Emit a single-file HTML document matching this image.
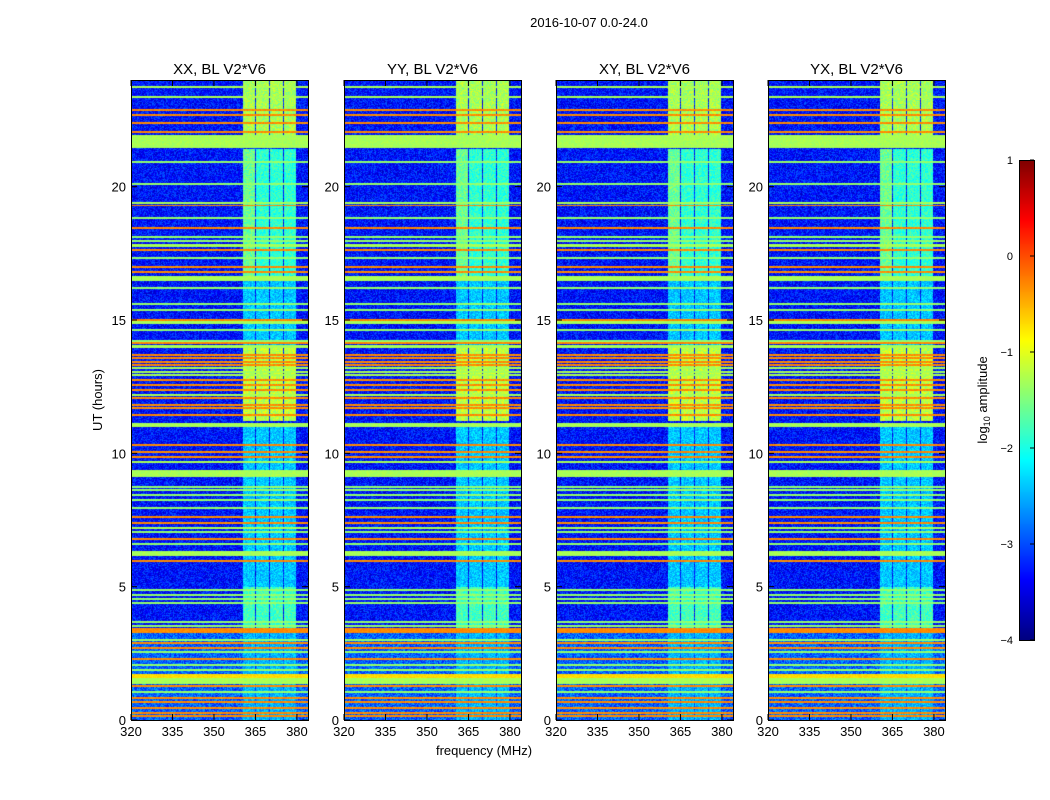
<!DOCTYPE html>
<html><head><meta charset="utf-8">
<style>
body{margin:0;background:#fff;width:1050px;height:800px;overflow:hidden;position:relative;font-family:"Liberation Sans",sans-serif}
canvas{position:absolute}
svg{position:absolute;left:0;top:0}
</style></head>
<body>
<canvas id="c0" width="177" height="640" style="left:131px;top:80px"></canvas>
<canvas id="c1" width="177" height="640" style="left:344px;top:80px"></canvas>
<canvas id="c2" width="177" height="640" style="left:556px;top:80px"></canvas>
<canvas id="c3" width="177" height="640" style="left:768px;top:80px"></canvas>
<canvas id="cb" width="15" height="480" style="left:1019px;top:160px"></canvas>
<svg id="ov" width="1050" height="800"></svg>
<script>
// ---- data ----
const panelTitles = ["XX, BL V2*V6","YY, BL V2*V6","XY, BL V2*V6","YX, BL V2*V6"];
const xTicks = [320,335,350,365,380];
const yTicks = [0,5,10,15,20];
const cbTicks = [1,0,-1,-2,-3,-4];
const lineHours = [23.74,23.36,22.88,22.69,22.39,22.05,21.68,20.93,20.1,19.39,19.28,18.83,18.45,18.11,17.96,17.78,17.63,17.33,16.99,16.8,16.54,16.2,15.6,15.38,15.0,14.89,14.63,14.21,14.14,14.0,13.69,13.58,13.43,13.31,13.2,13.05,12.94,12.75,12.56,12.38,12.19,12.08,11.81,11.7,11.44,11.06,10.31,10.05,9.86,9.68,9.24,8.74,8.63,8.44,8.25,7.95,7.61,7.39,7.2,7.05,6.79,6.6,6.23,5.96,4.88,4.69,4.54,4.39,3.68,3.53,3.34,3.0,2.89,2.7,2.55,2.29,2.06,1.88,1.65,1.44,1.28,1.05,0.83,0.68,0.45,0.26,0.15];
const lineWidths = [0.06,0.06,0.06,0.05,0.05,0.06,0.45,0.05,0.05,0.05,0.04,0.05,0.05,0.05,0.05,0.07,0.05,0.05,0.05,0.05,0.15,0.05,0.05,0.05,0.06,0.1,0.05,0.05,0.05,0.12,0.05,0.05,0.05,0.05,0.05,0.05,0.05,0.05,0.05,0.05,0.05,0.05,0.05,0.05,0.05,0.15,0.05,0.05,0.05,0.05,0.27,0.05,0.05,0.05,0.05,0.05,0.06,0.05,0.05,0.05,0.05,0.05,0.15,0.08,0.05,0.05,0.05,0.05,0.05,0.05,0.15,0.05,0.05,0.05,0.05,0.05,0.05,0.05,0.15,0.2,0.05,0.05,0.05,0.05,0.05,0.05,0.05];
const lineLevels = [-1.3,-1.3,-0.3,-0.3,-0.3,-0.3,-1.3,-1.4,-1.4,-1.3,-0.3,-1.4,-0.3,-1.4,-1.4,-1.3,-0.3,-1.4,-0.3,-0.3,-1.3,-1.4,-1.4,-1.4,-0.3,-1.3,-1.4,-1.4,-0.3,-1.3,-0.3,-0.3,-0.3,-0.3,-1.3,-1.3,-1.3,-0.3,-0.3,-0.3,-1.3,-0.3,-0.3,-0.3,-0.3,-1.3,-0.3,-0.3,-0.3,-1.3,-1.3,-1.4,-1.4,-1.4,-1.4,-1.4,-0.3,-0.3,-1.3,-1.4,-0.3,-1.4,-1.3,-0.3,-1.4,-1.4,-1.4,-1.4,-1.4,-1.4,-0.3,-1.4,-0.3,-0.3,-1.4,-0.3,-1.4,-1.4,-0.7,-1.3,-0.3,-1.4,-0.3,-0.3,-0.3,-0.3,-0.3];
const bandStart = [360.4,365.3,370.4,375.3];
const bandEnd = [365.0,369.9,375.0,379.8];
const segStart = [21.9,16.6,14.0,11.2,5.0,3.4,0.0];
const segEnd = [24.0,21.4,16.6,14.0,11.0,5.0,3.4];
const segLevel = [-1.3,-1.9,-2.4,-1.2,-2.4,-1.8,-2.5];
// ---- axes ----
const PW=177,PH=640,F0=320,F1=384,T0=0,T1=24;
const xs=f=>(f-F0)/(F1-F0)*PW;
const ys=h=>PH-(h-T0)/(T1-T0)*PH;
const lev2t=v=>(v+4)/5;
function jet(t){const c=x=>Math.max(0,Math.min(1,x));return [c(1.5-Math.abs(4*t-3))*255,c(1.5-Math.abs(4*t-2))*255,c(1.5-Math.abs(4*t-1))*255];}
function hash(i,j,k){let h=(i*374761393+j*668265263+k*2147483647)|0;h=(h^(h>>>13))*1274126177|0;return ((h^(h>>>16))>>>0)/4294967296;}
function drawPanel(id,pi){
  const cv=document.getElementById(id),ctx=cv.getContext('2d');
  const img=ctx.createImageData(PW,PH),d=img.data;
  const lev=new Float32Array(PW*PH);
  for(let y=0;y<PH;y++){const h=T1-(y+0.5)/PH*(T1-T0);const base=h<3.4?-2.9:-3.3;
    for(let x=0;x<PW;x++){lev[y*PW+x]=base+(hash(x,y,pi)-0.5)*0.8;}}
  for(let b=0;b<bandStart.length;b++){const x0=Math.round(xs(bandStart[b])),x1=Math.round(xs(bandEnd[b]));
    for(let s=0;s<segStart.length;s++){const y0=Math.round(ys(segEnd[s])),y1=Math.round(ys(segStart[s]));
      for(let y=y0;y<y1;y++)for(let x=x0;x<x1;x++){const v=segLevel[s]+(b==0&&s==1?0.3:0)+(hash(x,y,pi+7)-0.5)*0.6;const i=y*PW+x;if(v>lev[i])lev[i]=v;}}}
  for(let k=0;k<lineHours.length;k++){const y0=ys(lineHours[k]+lineWidths[k]/2),y1=ys(lineHours[k]-lineWidths[k]/2);
    const a=Math.floor(y0),bb=Math.max(a+1,Math.round(y1));
    for(let y=a;y<bb;y++){if(y<0||y>=PH)continue;for(let x=0;x<PW;x++)lev[y*PW+x]=lineLevels[k]+(hash(x,y,pi+3)-0.5)*0.2;}}
  for(let i=0;i<PW*PH;i++){const c=jet(lev2t(lev[i]));d[i*4]=c[0];d[i*4+1]=c[1];d[i*4+2]=c[2];d[i*4+3]=255;}
  ctx.putImageData(img,0,0);
}
["c0","c1","c2","c3"].forEach((id,i)=>drawPanel(id,i+1));
(function(){const cv=document.getElementById('cb'),ctx=cv.getContext('2d');
  for(let y=0;y<480;y++){const c=jet(1-(y+0.5)/480);ctx.fillStyle=`rgb(${c[0]|0},${c[1]|0},${c[2]|0})`;ctx.fillRect(0,y,15,1);}})();
// ---- overlay ----
const NS="http://www.w3.org/2000/svg",ov=document.getElementById('ov');
function el(tag,attrs,txt){const e=document.createElementNS(NS,tag);for(const k in attrs)e.setAttribute(k,attrs[k]);if(txt!==undefined)e.textContent=txt;ov.appendChild(e);return e;}
let t=el('text',{x:589,y:27,'font-size':13,'text-anchor':'middle','font-family':'Liberation Sans'},'2016-10-07 0.0-24.0');


const px=[131,344,556,768];
px.forEach((X,p)=>{
  const r=el('rect',{x:X+0.5,y:80.5,width:PW,height:PH,fill:'none',stroke:'#000','stroke-width':1});
  
  
  const tt=el('text',{x:X+PW/2,y:74,'font-size':15,'text-anchor':'middle','font-family':'Liberation Sans'},panelTitles[p]);
  
  
  xTicks.forEach(f=>{const x=X+xs(f);
    el('line',{x1:x,x2:x,y1:720,y2:714,stroke:'#000'});el('line',{x1:x,x2:x,y1:80,y2:86,stroke:'#000'});
    const l=el('text',{x:x,y:736,'font-size':13,'text-anchor':'middle','font-family':'Liberation Sans'},String(f));
    
    });
  yTicks.forEach(h=>{const y=80+ys(h);
    el('line',{x1:X,x2:X+6,y1:y,y2:y,stroke:'#000'});el('line',{x1:X+PW,x2:X+PW-6,y1:y,y2:y,stroke:'#000'});
    const l=el('text',{x:X-5,y:y+5,'font-size':13,'text-anchor':'end','font-family':'Liberation Sans'},String(h));
    
    });
});
t=el('text',{x:0,y:0,'font-size':13,'text-anchor':'middle','font-family':'Liberation Sans',transform:'translate(102,400) rotate(-90)'},'UT (hours)');


t=el('text',{x:484,y:755,'font-size':13,'text-anchor':'middle','font-family':'Liberation Sans'},'frequency (MHz)');


const cbr=el('rect',{x:1019.5,y:160.5,width:15,height:480,fill:'none',stroke:'#000'});


cbTicks.forEach(v=>{const y=160+(1-v)/5*480;
  el('line',{x1:1030,x2:1034,y1:y,y2:y,stroke:'#000'});
  const l=el('text',{x:1013,y:y+4,'font-size':11,'text-anchor':'end','font-family':'Liberation Sans'},v<0?'\u2212'+(-v):String(v));
  
  });
t=el('text',{x:0,y:0,'font-size':13,'text-anchor':'middle','font-family':'Liberation Sans',transform:'translate(987,400) rotate(-90)'});
t.innerHTML='log<tspan font-size="9" dy="3">10</tspan><tspan dy="-3"> amplitude</tspan>';


</script>
</body></html>
